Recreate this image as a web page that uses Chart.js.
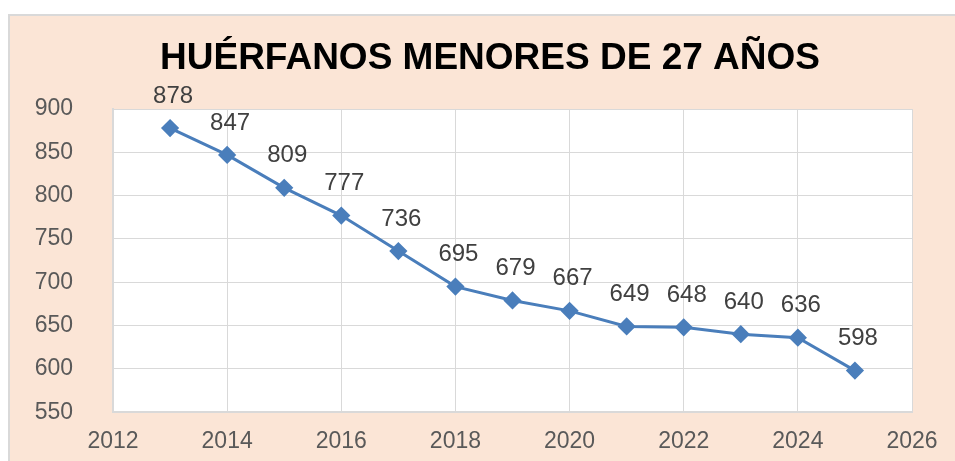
<!DOCTYPE html>
<html>
<head>
<meta charset="utf-8">
<script src="https://cdn.jsdelivr.net/npm/chart.js@4/dist/chart.umd.min.js"></script>
<style>
  html, body { margin: 0; padding: 0; background: #ffffff; overflow: hidden; }
  #box {
    position: absolute; left: 8px; top: 14px;
    width: 945px; height: 445px;
    background: #FBE5D6;
    border: 2px solid #d9d9d9;
    border-right: none; border-bottom: none;
    overflow: hidden;
  }
  #wrap { position: absolute; left: 0; top: 0; width: 945px; height: 450px; }
</style>
</head>
<body>
<div id="box"><div id="wrap"><canvas id="huerfanosChart"></canvas></div></div>
<script>
var years = [2013, 2014, 2015, 2016, 2017, 2018, 2019, 2020, 2021, 2022, 2023, 2024, 2025];
var huerfanos = [878, 847, 809, 777, 736, 695, 679, 667, 649, 648, 640, 636, 598];
var chartTitle = 'HUÉRFANOS MENORES DE 27 AÑOS';

var points = years.map(function (y, i) { return { x: y, y: huerfanos[i] }; });
var fontFam = '"Liberation Sans", Arial, sans-serif';

// white plot area behind the grid
var plotBg = {
  id: 'plotBg',
  beforeDraw: function (chart) {
    var a = chart.chartArea, c = chart.ctx;
    c.save();
    c.fillStyle = '#ffffff';
    c.fillRect(a.left, a.top, a.right - a.left, a.bottom - a.top);
    c.restore();
  }
};

// title drawn by hand so it sits where the original one does
var titleText = {
  id: 'titleText',
  afterDraw: function (chart) {
    var c = chart.ctx;
    c.save();
    c.font = 'bold 37px ' + fontFam;
    c.fillStyle = '#000000';
    c.textAlign = 'center';
    c.textBaseline = 'middle';
    c.fillText(chartTitle, 480, 43);
    c.restore();
  }
};

// value labels above each point
var valueLabels = {
  id: 'valueLabels',
  afterDatasetsDraw: function (chart) {
    var c = chart.ctx;
    var meta = chart.getDatasetMeta(0);
    c.save();
    c.font = '24px ' + fontFam;
    c.fillStyle = '#404040';
    c.textAlign = 'center';
    c.textBaseline = 'middle';
    meta.data.forEach(function (pt, i) {
      c.fillText(String(huerfanos[i]), pt.x + 3, pt.y - 32);
    });
    c.restore();
  }
};

var ctx = document.getElementById('huerfanosChart').getContext('2d');
var huerfanosChart = new Chart(ctx, {
  type: 'line',
  data: {
    datasets: [{
      label: 'Huérfanos',
      data: points,
      borderColor: '#4A7EBB',
      backgroundColor: '#4A7EBB',
      borderWidth: 3,
      pointStyle: 'rectRot',
      pointRadius: 7,
      pointHoverRadius: 7,
      tension: 0
    }]
  },
  options: {
    responsive: true,
    maintainAspectRatio: false,
    animation: false,
    layout: { padding: { left: 0, right: 43, top: 93, bottom: 0 } },
    plugins: {
      legend: { display: false },
      tooltip: { enabled: false },
      title: { display: false }
    },
    scales: {
      x: {
        type: 'linear',
        min: 2012,
        max: 2026,
        afterFit: function (s) { s.height = 40; },
        ticks: {
          stepSize: 2,
          padding: 16,
          color: '#595959',
          font: { family: fontFam, size: 23 },
          callback: function (v) { return String(v); }
        },
        grid: { color: '#d9d9d9', lineWidth: 1, drawTicks: false },
        border: { color: '#d9d9d9', width: 2 }
      },
      y: {
        min: 550,
        max: 900,
        afterFit: function (s) { s.width = 103; },
        ticks: {
          stepSize: 50,
          padding: 40,
          color: '#595959',
          font: { family: fontFam, size: 23 }
        },
        grid: { color: '#d9d9d9', lineWidth: 1, drawTicks: false },
        border: { color: '#d9d9d9', width: 2 }
      }
    }
  },
  plugins: [plotBg, valueLabels, titleText]
});
</script>
</body>
</html>
